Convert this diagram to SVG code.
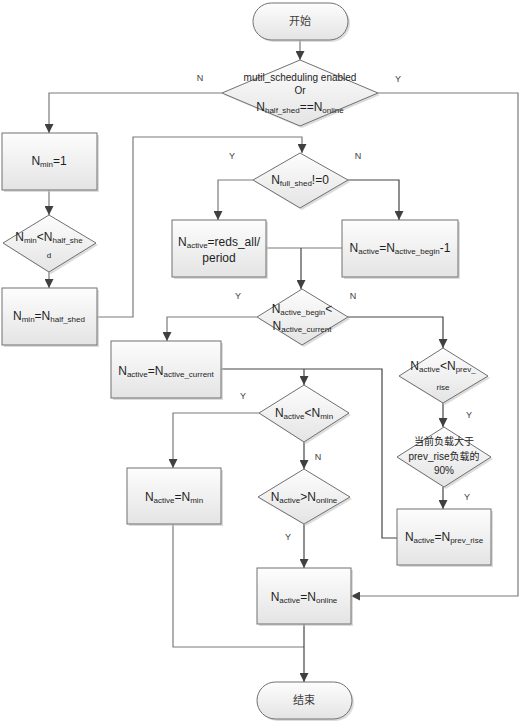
<svg xmlns="http://www.w3.org/2000/svg" width="531" height="725" viewBox="0 0 531 725">
<defs>
<linearGradient id="g" x1="0" y1="0" x2="0" y2="1">
<stop offset="0" stop-color="#fdfdfd"/>
<stop offset="1" stop-color="#e4e4e4"/>
</linearGradient>
<marker id="ah" viewBox="0 0 10 10" refX="10" refY="5" markerWidth="9" markerHeight="9" markerUnits="userSpaceOnUse" orient="auto">
<path d="M0,0 L10,5 L0,10 z" fill="#404040"/>
</marker>
</defs>
<style>
.shape{fill:url(#g);stroke:#707070;stroke-width:1}
.term{fill:url(#g);stroke:#707070;stroke-width:1}
.sh{fill:#c4c4c4;opacity:0.6}
.ln{fill:none;stroke:#7a7a7a;stroke-width:1.2}
.dk{stroke:#454545}
.arr{marker-end:url(#ah)}
text{font-family:"Liberation Sans",Arial,"Noto Sans CJK SC",sans-serif;fill:#1e1e1e}
.t{font-size:12px;text-anchor:middle}
.s{font-size:8px}
.m{font-size:10px;text-anchor:middle}
.lb{font-size:9px;fill:#404040;text-anchor:middle}
.cj{font-family:"Noto Sans CJK SC",sans-serif;font-size:11px;text-anchor:middle;fill:#404040}
</style>

<g id="connectors">
<path class="ln arr" d="M300,40 V60"/>
<path class="ln arr" d="M222,93 H49 V133"/>
<path class="ln arr" d="M378,93 H518 V596 H351"/>
<path class="ln arr" d="M49,190 V215"/>
<path class="ln arr" d="M49,272 V288"/>
<path class="ln arr" d="M96,317 H133 V137 H302 V153"/>
<path class="ln arr" d="M253,180 H218 V220"/>
<path class="ln dk arr" d="M348,180 H399 V220"/>
<path class="ln" d="M266,248 H342"/>
<path class="ln dk arr" d="M301,248 V289"/>
<path class="ln arr" d="M257,317 H167 V341"/>
<path class="ln dk arr" d="M348,317 H443 V348"/>
<path class="ln dk" d="M221,369 H382 V538 H397"/>
<path class="ln dk arr" d="M304,369 V385"/>
<path class="ln arr" d="M259,413 H173 V468"/>
<path class="ln dk arr" d="M304,442 V469"/>
<path class="ln dk arr" d="M304,524 V568"/>
<path class="ln dk arr" d="M443,403 V427"/>
<path class="ln dk arr" d="M443,487 V509"/>
<path class="ln" d="M173,524 V647 H304"/>
<path class="ln dk arr" d="M304,624 V682"/>
<text class="lb" x="200" y="81">N</text>
<text class="lb" x="398" y="82">Y</text>
<text class="lb" x="232" y="159">Y</text>
<text class="lb" x="358" y="159">N</text>
<text class="lb" x="238" y="299">Y</text>
<text class="lb" x="353" y="299">N</text>
<text class="lb" x="243" y="399">Y</text>
<text class="lb" x="318" y="460">N</text>
<text class="lb" x="288" y="540">Y</text>
<text class="lb" x="469" y="418">Y</text>
<text class="lb" x="467" y="500">Y</text>
</g>

<g id="start">
<rect class="sh" x="255" y="5" width="95" height="37" rx="18.5"/>
<rect class="term" x="253" y="3" width="95" height="37" rx="18.5"/>
<text class="cj" x="300" y="25">开始</text>
</g>

<g id="d_sched">
<polygon class="sh" points="302,62 380,95 302,128 224,95"/>
<polygon class="shape" points="300,60 378,93 300,126 222,93"/>
<text class="m" x="300" y="81">mutil_scheduling enabled</text>
<text class="m" x="300" y="94">Or</text>
<text class="t" x="300" y="111">N<tspan class="s" dy="2">half_shed</tspan><tspan dy="-2">==N</tspan><tspan class="s" dy="2">online</tspan></text>
</g>

<g id="b_nmin1">
<rect class="sh" x="4" y="135" width="95" height="57"/>
<rect class="shape" x="2" y="133" width="95" height="57"/>
<text class="t" x="49" y="165">N<tspan class="s" dy="2">min</tspan><tspan dy="-2">=1</tspan></text>
</g>

<g id="d_nmin_half">
<polygon class="sh" points="51,217 98,245 51,274 5,245"/>
<polygon class="shape" points="49,215 96,243 49,272 3,243"/>
<text class="t" x="49" y="241">N<tspan class="s" dy="2">min</tspan><tspan dy="-2">&lt;N</tspan><tspan class="s" dy="2">half_she</tspan></text>
<text class="s" x="49" y="258" text-anchor="middle">d</text>
</g>

<g id="b_nmin_half">
<rect class="sh" x="4" y="290" width="95" height="57"/>
<rect class="shape" x="2" y="288" width="95" height="57"/>
<text class="t" x="49" y="320">N<tspan class="s" dy="2">min</tspan><tspan dy="-2">=N</tspan><tspan class="s" dy="2">half_shed</tspan></text>
</g>

<g id="d_full">
<polygon class="sh" points="302,155 350,182 302,210 255,182"/>
<polygon class="shape" points="300,153 348,180 300,208 253,180"/>
<text class="t" x="300" y="184">N<tspan class="s" dy="2">full_shed</tspan><tspan dy="-2">!=0</tspan></text>
</g>

<g id="b_reds">
<rect class="sh" x="174" y="222" width="94" height="57"/>
<rect class="shape" x="172" y="220" width="94" height="57"/>
<text class="t" x="219" y="246">N<tspan class="s" dy="2">active</tspan><tspan dy="-2">=reds_all/</tspan></text>
<text class="t" x="219" y="262">period</text>
</g>

<g id="b_begin1">
<rect class="sh" x="344" y="222" width="116" height="57"/>
<rect class="shape" x="342" y="220" width="116" height="57"/>
<text class="t" x="400" y="252">N<tspan class="s" dy="2">active</tspan><tspan dy="-2">=N</tspan><tspan class="s" dy="2">active_begin</tspan><tspan dy="-2">-1</tspan></text>
</g>

<g id="d_begin">
<polygon class="sh" points="304,291 350,319 304,347 259,319"/>
<polygon class="shape" points="302,289 348,317 302,345 257,317"/>
<text class="t" x="302" y="313">N<tspan class="s" dy="2">active_begin</tspan><tspan dy="-2">&lt;</tspan></text>
<text class="t" x="302" y="330">N<tspan class="s" dy="2">active_current</tspan></text>
</g>

<g id="b_current">
<rect class="sh" x="113" y="343" width="110" height="57"/>
<rect class="shape" x="111" y="341" width="110" height="57"/>
<text class="t" x="166" y="375">N<tspan class="s" dy="2">active</tspan><tspan dy="-2">=N</tspan><tspan class="s" dy="2">active_current</tspan></text>
</g>

<g id="d_lt_min">
<polygon class="sh" points="306,387 351,415 306,444 261,415"/>
<polygon class="shape" points="304,385 349,413 304,442 259,413"/>
<text class="t" x="304" y="417">N<tspan class="s" dy="2">active</tspan><tspan dy="-2">&lt;N</tspan><tspan class="s" dy="2">min</tspan></text>
</g>

<g id="b_min">
<rect class="sh" x="129" y="470" width="94" height="56"/>
<rect class="shape" x="127" y="468" width="94" height="56"/>
<text class="t" x="174" y="501">N<tspan class="s" dy="2">active</tspan><tspan dy="-2">=N</tspan><tspan class="s" dy="2">min</tspan></text>
</g>

<g id="d_gt_online">
<polygon class="sh" points="306,471 352,499 306,526 260,499"/>
<polygon class="shape" points="304,469 350,497 304,524 258,497"/>
<text class="t" x="304" y="501">N<tspan class="s" dy="2">active</tspan><tspan dy="-2">&gt;N</tspan><tspan class="s" dy="2">online</tspan></text>
</g>

<g id="b_online">
<rect class="sh" x="259" y="570" width="94" height="56"/>
<rect class="shape" x="257" y="568" width="94" height="56"/>
<text class="t" x="304" y="601">N<tspan class="s" dy="2">active</tspan><tspan dy="-2">=N</tspan><tspan class="s" dy="2">online</tspan></text>
</g>

<g id="d_prev">
<polygon class="sh" points="445,350 490,378 445,405 401,378"/>
<polygon class="shape" points="443,348 488,376 443,403 399,376"/>
<text class="t" x="443" y="370">N<tspan class="s" dy="2">active</tspan><tspan dy="-2">&lt;N</tspan><tspan class="s" dy="2">prev_</tspan></text>
<text class="s" x="443" y="390" text-anchor="middle">rise</text>
</g>

<g id="d_load">
<polygon class="sh" points="446,429 493,459 446,489 399,459"/>
<polygon class="shape" points="444,427 491,457 444,487 397,457"/>
<text class="m" x="444" y="445" style="font-family:'Noto Sans CJK SC',sans-serif">当前负载大于</text>
<text class="m" x="444" y="460"><tspan>prev_rise</tspan><tspan style="font-family:'Noto Sans CJK SC',sans-serif">负载的</tspan></text>
<text class="m" x="444" y="474">90%</text>
</g>

<g id="b_prev">
<rect class="sh" x="399" y="511" width="94" height="56"/>
<rect class="shape" x="397" y="509" width="94" height="56"/>
<text class="t" x="444" y="541">N<tspan class="s" dy="2">active</tspan><tspan dy="-2">=N</tspan><tspan class="s" dy="2">prev_rise</tspan></text>
</g>

<g id="end">
<rect class="sh" x="259" y="684" width="95" height="37" rx="18.5"/>
<rect class="term" x="257" y="682" width="95" height="37" rx="18.5"/>
<text class="cj" x="304" y="704">结束</text>
</g>
</svg>
